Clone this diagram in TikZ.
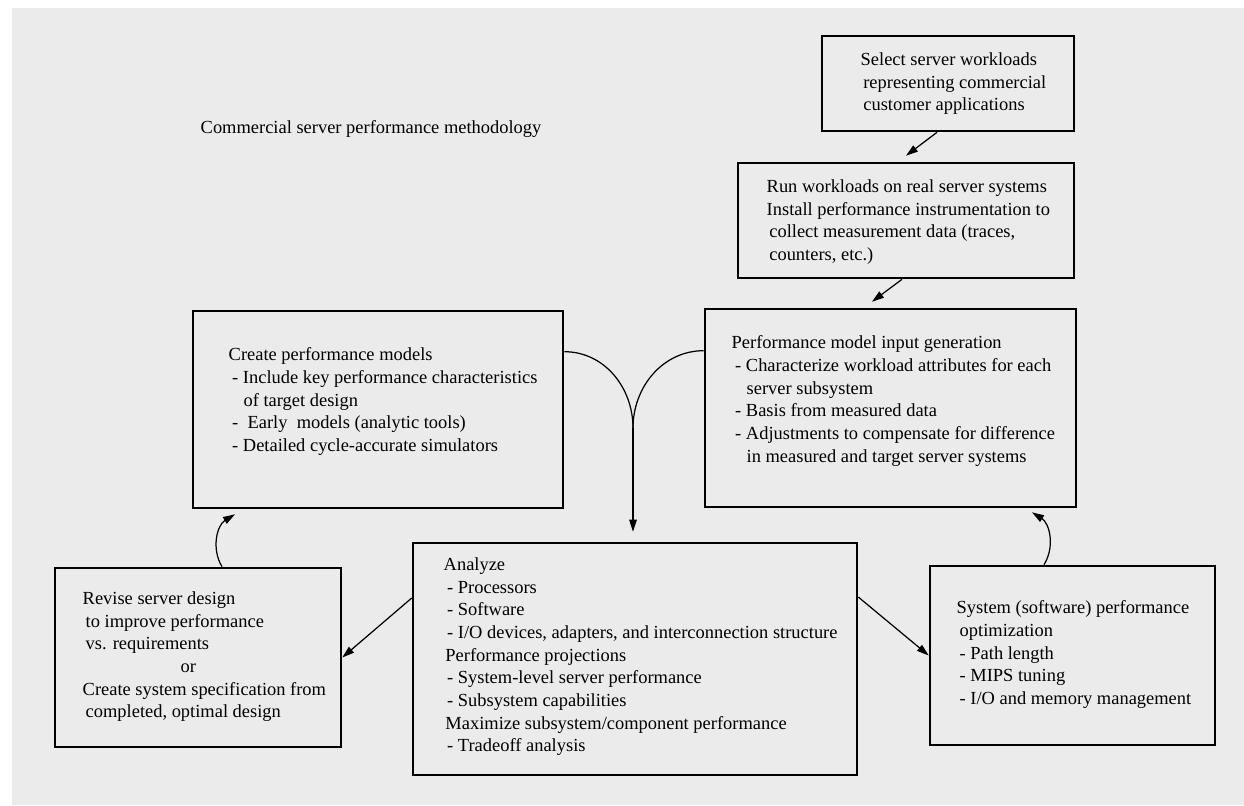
\documentclass[tikz,border=0pt]{standalone}
\usepackage{fontspec}
\setmainfont{Liberation Serif}
\usetikzlibrary{arrows.meta,calc}

\begin{document}
\begin{tikzpicture}[x=0.02cm,y=-0.02cm,
  thick,main node/.style={draw,line width=1.5pt,inner sep=0pt},
  text node/.style={anchor=north west,inner sep=0pt,align=left,
    font=\fontsize{10.5}{12.9}\selectfont},
  link/.style={line width=0.7pt},
  arrow/.style={link,-{Triangle[length=0.24cm,width=0.15cm]}}]

  \useasboundingbox (0,0) rectangle (1244,805);
  \fill[black!8] (12,8) rectangle (1244,805);

  % boxes
  \node[main node,minimum width=5.04cm,minimum height=1.9cm] (1) at (948,83.5) {};
  \node[main node,minimum width=6.72cm,minimum height=2.3cm] (2) at (906,220.5) {};
  \node[main node,minimum width=7.42cm,minimum height=3.96cm] (3) at (890.5,408) {};
  \node[main node,minimum width=7.4cm,minimum height=3.94cm] (4) at (378,409.5) {};
  \node[main node,minimum width=8.88cm,minimum height=4.64cm] (5) at (635,659) {};
  \node[main node,minimum width=5.72cm,minimum height=3.58cm] (6) at (198,657.5) {};
  \node[main node,minimum width=5.7cm,minimum height=3.58cm] (7) at (1072.5,655.5) {};

  % texts
  \node[text node,anchor=west] (l0) at (200,129) {Commercial server performance methodology};
  \node[text node] (l1) at (860,52) {Select server workloads\\
    \hspace*{1.5pt}representing commercial\\
    \hspace*{1.5pt}customer applications};
  \node[text node] (l2) at (766,179) {Run workloads on real server systems\\
    Install performance instrumentation to\\
    \hspace*{1.5pt}collect measurement data (traces,\\
    \hspace*{1.5pt}counters, etc.)};
  \node[text node] (l3) at (731,335) {Performance model input generation\\
    \hspace*{2pt}- Characterize workload attributes for each\\
    \hspace*{8.5pt}server subsystem\\
    \hspace*{2pt}- Basis from measured data\\
    \hspace*{2pt}- Adjustments to compensate for difference\\
    \hspace*{8.5pt}in measured and target server systems};
  \node[text node] (l4) at (228,347) {Create performance models\\
    \hspace*{2pt}- Include key performance characteristics\\
    \hspace*{8.5pt}of target design\\
    \hspace*{2pt}- \ Early \ models (analytic tools)\\
    \hspace*{2pt}- Detailed cycle-accurate simulators};
  \node[text node] (l5) at (443,557) {Analyze\\
    \hspace*{2pt}- Processors\\
    \hspace*{2pt}- Software\\
    \hspace*{2pt}- I/O devices, adapters, and interconnection structure\\
    \hspace*{1pt}Performance projections\\
    \hspace*{2pt}- System-level server performance\\
    \hspace*{2pt}- Subsystem capabilities\\
    \hspace*{1pt}Maximize subsystem/component performance\\
    \hspace*{2pt}- Tradeoff analysis};
  \node[text node] (l6) at (82,591) {Revise server design\\
    \hspace*{1.7pt}to improve performance\\
    \hspace*{1.7pt}vs. requirements\\
    \hspace*{1.96cm}or\\
    Create system specification from\\
    \hspace*{1.7pt}completed, optimal design};
  \node[text node] (l7) at (956,600) {System (software) performance\\
    \hspace*{1.7pt}optimization\\
    \hspace*{1.7pt}- Path length\\
    \hspace*{1.7pt}- MIPS tuning\\
    \hspace*{1.7pt}- I/O and memory management};

  % connectors
  \coordinate (m) at (633,428);
  \draw[arrow] ([xshift=-0.22cm]1.south) -- ([yshift=0.12cm]2.north);
  \draw[arrow] ([xshift=-0.08cm]2.south) -- ([xshift=-0.37cm,yshift=0.12cm]3.north);
  \draw[link] ([yshift=-0.84cm]4.north east) to[out=0,in=90] (m);
  \draw[link] ([yshift=-0.86cm]3.north west) to[out=180,in=90] (m);
  \draw[arrow,shorten >=0.2cm] (m) -- (m |- 5.north);
  \draw[arrow] ([yshift=1.22cm]5.west) -- (6.east);
  \draw[arrow] ([yshift=1.24cm]5.east) -- (7.west);
  \draw[arrow] ([xshift=0.48cm]6.north) to[bend left=45] ([xshift=-2.86cm,yshift=-0.1cm]4.south);
  \draw[arrow] ([xshift=-0.57cm]7.north) to[bend right=45] ([xshift=2.83cm,yshift=-0.08cm]3.south);

\end{tikzpicture}
\end{document}
